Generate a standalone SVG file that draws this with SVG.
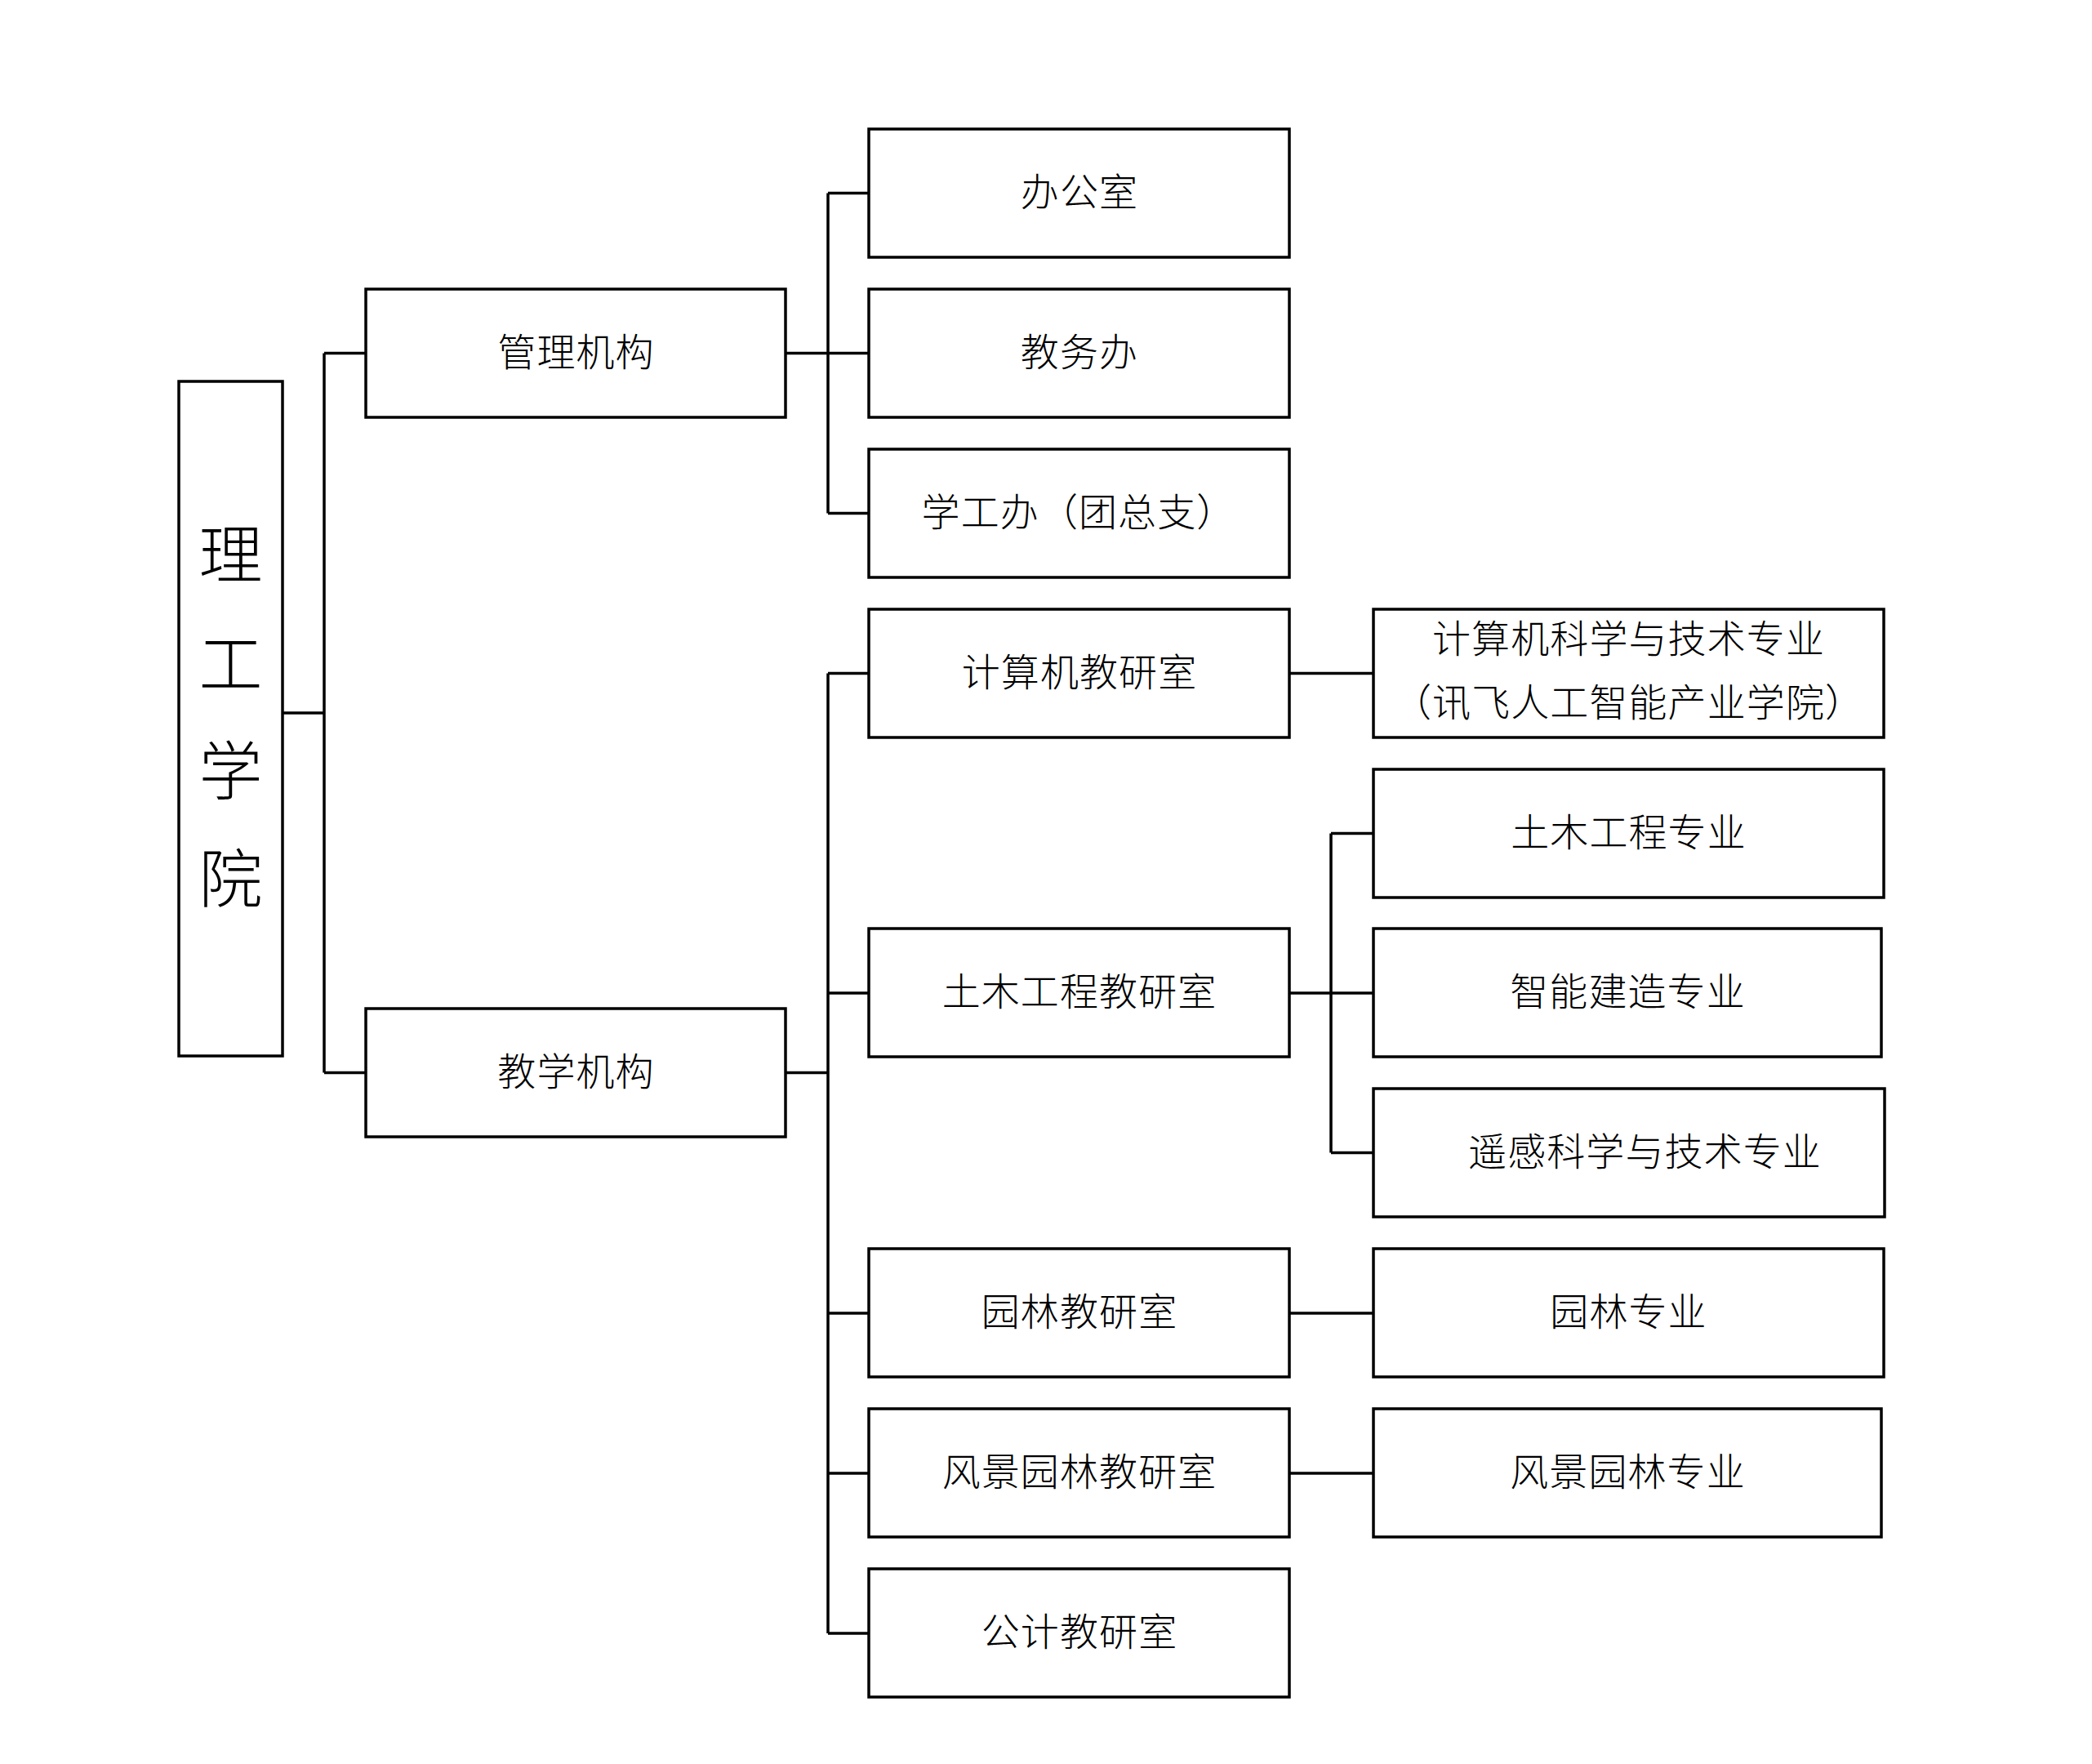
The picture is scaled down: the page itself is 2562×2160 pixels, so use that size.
<svg xmlns="http://www.w3.org/2000/svg" width="2562" height="2160" viewBox="0 0 2562 2160">
<style>
.box{fill:#fff;stroke:#000;stroke-width:3.5}
.t{font-family:"Noto Sans CJK SC","Noto Sans",sans-serif;font-weight:300;font-size:47px;letter-spacing:1.1px;fill:#000;text-anchor:middle}
.root{font-size:78px;letter-spacing:0}
.c{fill:none;stroke:#000;stroke-width:3.5}
</style>
<rect width="2562" height="2160" fill="#fff"/>
<g id="connectors" class="c">
<path d="M346 873H397M397 432.5V1313.5M397 432.5H448M397 1313.5H448"/>
<path d="M962 432.5H1064M1014 236.5V628.5M1014 236.5H1064M1014 628.5H1064"/>
<path d="M962 1313.5H1014M1014 824.5V2000M1014 824.5H1064M1014 1216H1064M1014 1608H1064M1014 1804H1064M1014 2000H1064"/>
<path d="M1579 824.5H1682"/>
<path d="M1579 1216H1682M1630 1020.5V1411.5M1630 1020.5H1682M1630 1411.5H1682"/>
<path d="M1579 1608H1682"/>
<path d="M1579 1804H1682"/>
</g>
<g id="n-root"><rect class="box" x="219" y="467" width="127" height="826"/>
<text class="t root" x="282.5" y="708">理</text><text class="t root" x="282.5" y="842">工</text><text class="t root" x="282.5" y="973">学</text><text class="t root" x="282.5" y="1105">院</text></g>
<g id="n-guanli"><rect class="box" x="448" y="354" width="514" height="157"/><text class="t" x="705.5" y="447.5">管理机构</text></g>
<g id="n-jiaoxue"><rect class="box" x="448" y="1235" width="514" height="157"/><text class="t" x="705.5" y="1328.5">教学机构</text></g>
<g id="n-bgs"><rect class="box" x="1064" y="158" width="515" height="157"/><text class="t" x="1322" y="251.5">办公室</text></g>
<g id="n-jwb"><rect class="box" x="1064" y="354" width="515" height="157"/><text class="t" x="1322" y="447.5">教务办</text></g>
<g id="n-xgb"><rect class="box" x="1064" y="550" width="515" height="157"/><text class="t" x="1321" y="643.5">学工办（团总支）</text></g>
<g id="n-jsj"><rect class="box" x="1064" y="746" width="515" height="157"/><text class="t" x="1322" y="839.5">计算机教研室</text></g>
<g id="n-tm"><rect class="box" x="1064" y="1137" width="515" height="157"/><text class="t" x="1322" y="1231">土木工程教研室</text></g>
<g id="n-yl"><rect class="box" x="1064" y="1529" width="515" height="157"/><text class="t" x="1322" y="1623">园林教研室</text></g>
<g id="n-fjyl"><rect class="box" x="1064" y="1725" width="515" height="157"/><text class="t" x="1322" y="1819">风景园林教研室</text></g>
<g id="n-gj"><rect class="box" x="1064" y="1921" width="515" height="157"/><text class="t" x="1322" y="2015">公计教研室</text></g>
<g id="n-jsjzy"><rect class="box" x="1682" y="746" width="625" height="157"/><text class="t" x="1994.5" y="798.5">计算机科学与技术专业</text><text class="t" x="1994.5" y="876.5">（讯飞人工智能产业学院）</text></g>
<g id="n-tmzy"><rect class="box" x="1682" y="942" width="625" height="157"/><text class="t" x="1994.5" y="1035.5">土木工程专业</text></g>
<g id="n-znjz"><rect class="box" x="1682" y="1137" width="622" height="157"/><text class="t" x="1993.5" y="1231">智能建造专业</text></g>
<g id="n-yg"><rect class="box" x="1682" y="1333" width="626" height="157"/><text class="t" x="2014.5" y="1427">遥感科学与技术专业</text></g>
<g id="n-ylzy"><rect class="box" x="1682" y="1529" width="625" height="157"/><text class="t" x="1994.5" y="1623">园林专业</text></g>
<g id="n-fjylzy"><rect class="box" x="1682" y="1725" width="622" height="157"/><text class="t" x="1993.5" y="1819">风景园林专业</text></g>
</svg>
